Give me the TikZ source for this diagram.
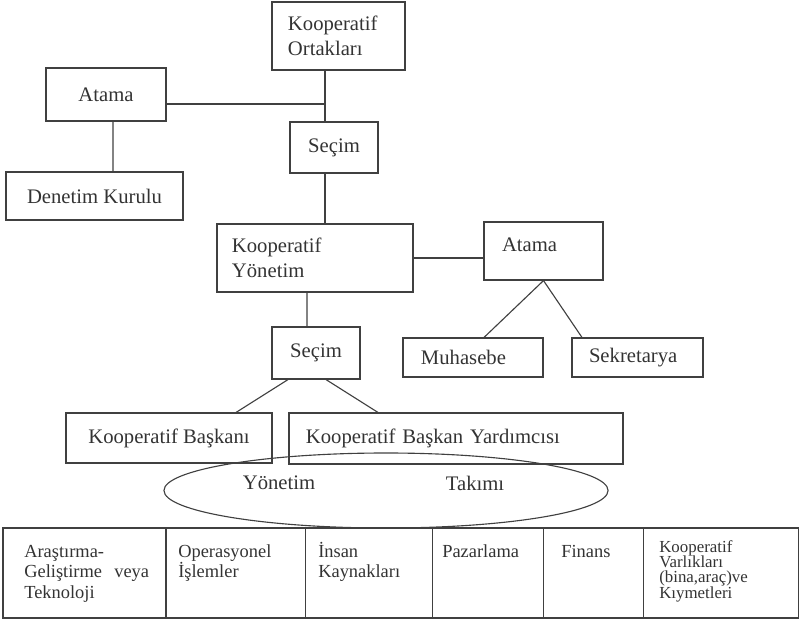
\documentclass[tikz,border=0pt]{standalone}
\usepackage{fontspec}
\setmainfont{Liberation Serif}
\usetikzlibrary{shapes.geometric}
\begin{document}
\begin{tikzpicture}[x=0.025cm,y=-0.025cm]
		\tikzstyle{BOX}=[rectangle,draw=black!75,line width=0.8pt,text=black!80,font=\fontsize{14.7}{17.8}\selectfont,align=center,inner sep=0pt]
		\tikzstyle{LBOX}=[BOX,align=left]
		\tikzstyle{CELL}=[rectangle,draw=black!75,line width=0.8pt,anchor=north west,minimum height=2.25cm,inner sep=0pt,outer sep=0pt]
		\tikzstyle{CTXT}=[anchor=base west,align=left,text=black!80,inner sep=0pt,font=\fontsize{13.1}{14.6}\selectfont]
		\useasboundingbox (0,0) rectangle (799,627);

		\node[LBOX,inner xsep=0.4cm,text width=2.525cm,minimum height=1.7cm] (ortak) at (338.5,36) {Kooperatif\\Ortakları};
		\node[BOX,minimum width=3cm,minimum height=1.325cm] (atamaD) at (106,94.5) {Atama};
		\node[BOX,minimum width=2.2cm,minimum height=1.275cm] (secim1) at (334,147.5) {Seçim};
		\node[BOX,minimum width=4.425cm,minimum height=1.2cm] (denetim) at (94.5,196) {Denetim Kurulu};
		\node[LBOX,inner xsep=0.375cm,text width=4.15cm,minimum height=1.7cm] (yonetim) at (315,258) {Kooperatif\\Yönetim};
		\node[LBOX,inner xsep=0.45cm,text width=2.075cm,text depth=0.3cm,minimum height=1.45cm] (atamaY) at (543.5,251) {Atama};
		\node[LBOX,inner xsep=0.45cm,text width=2.6cm,minimum height=0.975cm] (muhasebe) at (473,357.5) {Muhasebe};
		\node[LBOX,inner xsep=0.425cm,text width=2.425cm,minimum height=0.975cm] (sekreter) at (637.5,357.5) {Sekretarya};
		\node[BOX,minimum width=2.2cm,minimum height=1.3cm] (secim2) at (316,353) {Seçim};
		\node[BOX,minimum width=5.15cm,minimum height=1.25cm] (baskan) at (169,438) {Kooperatif Başkanı};
		\node[LBOX,inner xsep=0.425cm,text width=7.5cm,minimum height=1.275cm] (yardimci) at (456,438.5) {Kooperatif Başkan Yardımcısı};
		\node[ellipse,draw=black!75,line width=0.8pt,minimum width=11.1cm,minimum height=1.875cm,inner sep=0pt] (takim) at (386,490.5) {};
		\node[BOX,draw=none] (takim1) at (279,483) {Yönetim};
		\node[BOX,draw=none] (takim2) at (475,483) {Takımı};
		\coordinate (j1) at (325,104);

		\path[-,draw=black!75,line width=0.8pt]
		(ortak.south -| j1) edge (secim1.north -| j1)
		(atamaD.east |- j1) edge (j1)
		(secim1.south -| j1) edge (yonetim.north -| j1)
		([xshift=0.175cm]atamaD.south) edge ([xshift=0.4625cm]denetim.north)
		(yonetim.east) edge (yonetim.east -| atamaY.west)
		(atamaY.south) edge ([xshift=0.275cm]muhasebe.north)
		(atamaY.south) edge ([xshift=-1.3875cm]sekreter.north)
		([xshift=-0.2cm]yonetim.south) edge ([xshift=-0.225cm]secim2.north)
		([xshift=-0.7cm]secim2.south) edge ([xshift=1.675cm]baskan.north)
		([xshift=0.25cm]secim2.south) edge ([xshift=-1.95cm]yardimci.north)
		;

		% alt tablo
		\node[CELL,minimum width=4.075cm] (arge) at (3,528) {};
		\node[CELL,minimum width=3.475cm] (operasyon) at (arge.north east) {};
		\node[CELL,minimum width=3.175cm] (insan) at (operasyon.north east) {};
		\node[CELL,minimum width=2.775cm] (pazar) at (insan.north east) {};
		\node[CELL,minimum width=2.5cm] (finans) at (pazar.north east) {};
		\node[CELL,minimum width=3.875cm] (varlik) at (finans.north east) {};

		\node[CTXT,text width=3.2cm] (argeT) at (24,557) {Araştırma-\\Geliştirme~~veya\\Teknoloji};
		\node[CTXT,text width=3cm] (operasyonT) at (178,557) {Operasyonel\\İşlemler};
		\node[CTXT,text width=2.8cm] (insanT) at (318,557) {İnsan\\Kaynakları};
		\node[CTXT,text width=2.5cm] (pazarT) at (442,557) {Pazarlama};
		\node[CTXT,text width=2cm] (finansT) at (561,557) {Finans};
		\node[CTXT,text width=3.3cm,font=\fontsize{12}{11}\selectfont] (varlikT) at (659,552) {Kooperatif\\Varlıkları\\(bina,araç)ve\\Kıymetleri};
\end{tikzpicture}
\end{document}
